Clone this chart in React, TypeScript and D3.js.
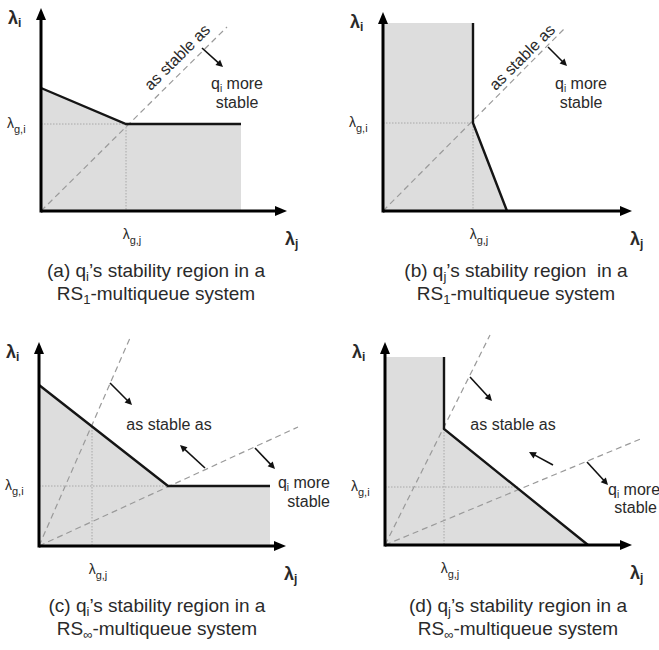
import React from "react";
import * as d3 from "d3";

// ---------- data: values (units = offsets from each panel's origin, y up) ----------
const panelKeys = ["a", "b", "c", "d"];

// position of λg,j on the λj axis and λg,i on the λi axis
const gJ = [85, 90, 53, 59];
const gI = [87, 88, 60, 58];

// stability-region boundary (solid black polyline)
const boundaryA: [number, number][] = [[0, 123], [85, 87], [200, 87]];
const boundaryB: [number, number][] = [[90, 188], [90, 88], [124, 0]];
const boundaryC: [number, number][] = [[0, 161], [129, 60], [231, 60]];
const boundaryD: [number, number][] = [[59, 188], [59, 116], [203, 0]];
const boundaries = [boundaryA, boundaryB, boundaryC, boundaryD];

// dotted guide lines: end of horizontal guide (at λg,i) and top of vertical guide (at λg,j)
const guideHEnd = [85, 90, 129, 133];
const guideVTop = [87, 88, 119, 116];

// dashed "as stable as" lines from the origin
const dashedA: [number, number][][] = [[[0, 0], [186, 184]]];
const dashedB: [number, number][][] = [[[0, 0], [182, 183]]];
const dashedC: [number, number][][] = [[[0, 0], [91, 208]], [[0, 0], [259, 119]]];
const dashedD: [number, number][][] = [[[0, 0], [105, 210]], [[0, 0], [258, 107]]];
const dashed = [dashedA, dashedB, dashedC, dashedD];

// small annotation arrows (from, to)
const arrowsA: [number, number][][] = [[[161, 163], [182, 144]]];
const arrowsB: [number, number][][] = [[[165, 164], [184, 145]]];
const arrowsC: [number, number][][] = [[[71, 163], [93, 141]], [[166, 78], [141, 101]], [[216, 98], [236, 77]]];
const arrowsD: [number, number][][] = [[[85, 168], [107, 144]], [[168, 80], [144, 93]], [[202, 83], [223, 60]]];
const arrows = [arrowsA, arrowsB, arrowsC, arrowsD];

// caption text
type Seg = { t: string; sub?: boolean };
const captionLine1: Seg[][] = [
  [{ t: "(a) q" }, { t: "i", sub: true }, { t: "\u2019s stability region in a" }],
  [{ t: "(b) q" }, { t: "j", sub: true }, { t: "\u2019s stability region\u00a0 in a" }],
  [{ t: "(c) q" }, { t: "i", sub: true }, { t: "\u2019s stability region in a" }],
  [{ t: "(d) q" }, { t: "j", sub: true }, { t: "\u2019s stability region in a" }],
];
const captionLine2: Seg[][] = [
  [{ t: "RS" }, { t: "1", sub: true }, { t: "-multiqueue system" }],
  [{ t: "RS" }, { t: "1", sub: true }, { t: "-multiqueue system" }],
  [{ t: "RS" }, { t: "\u221e", sub: true }, { t: "-multiqueue system" }],
  [{ t: "RS" }, { t: "\u221e", sub: true }, { t: "-multiqueue system" }],
];
const asStableLabel = "as stable as";
const moreStableLabel: Seg[] = [{ t: "q" }, { t: "i", sub: true }, { t: " more" }];
const stableLabel = "stable";

// ---------- layout ----------
const W = 659;
const H = 650;
const origins: [number, number][] = [[41, 211], [383, 211], [39, 546], [385, 545]];
const axisLen: [number, number][] = [[246, 203], [249, 199], [247, 204], [247, 203]];
const captionX = [156, 516, 157, 518];
const captionY = [[277, 300], [277, 300], [612, 635], [612, 635]];
// "as stable as" position [x, y, rotation]
const asStablePos: [number, number, number][] = [[137, 153, -45], [140, 153, -45], [130, 116, 0], [128, 115, 0]];
// "q_i more" position [x, y, anchor]
const morePos: [number, number, string][] = [
  [196, 122, "middle"],
  [198, 122, "middle"],
  [291, 58, "end"],
  [223, 50, "start"],
];
// "stable" position [x, y, anchor]
const stablePos: [number, number, string][] = [
  [196, 103, "middle"],
  [198, 103, "middle"],
  [291, 39, "end"],
  [272, 32, "end"],
];

const FONT = "'Liberation Sans', Arial, Helvetica, sans-serif";
const TEXT = "#2a2a2a";
const FILL = "#dddddd";

function segs(list: Seg[], subSize: string, dy: number) {
  const out: React.ReactNode[] = [];
  let shifted = false;
  list.forEach((s, i) => {
    if (s.sub) {
      out.push(
        <tspan key={i} dy={dy} fontSize={subSize}>
          {s.t}
        </tspan>
      );
      shifted = true;
    } else {
      out.push(
        <tspan key={i} dy={shifted ? -dy : 0}>
          {s.t}
        </tspan>
      );
      shifted = false;
    }
  });
  return out;
}

function head(x1: number, y1: number, x2: number, y2: number, len: number, hw: number) {
  const a = Math.atan2(y2 - y1, x2 - x1);
  const bx = x2 - len * Math.cos(a);
  const by = y2 - len * Math.sin(a);
  const px = -Math.sin(a) * hw;
  const py = Math.cos(a) * hw;
  return `M${x2},${y2}L${bx + px},${by + py}L${bx - px},${by - py}Z`;
}

function Panel({ i }: { i: number }) {
  const [ox, oy] = origins[i];
  const [lx, ly] = axisLen[i];
  const x = d3.scaleLinear().domain([0, lx]).range([ox, ox + lx]);
  const y = d3.scaleLinear().domain([0, ly]).range([oy, oy - ly]);
  const line = d3
    .line<[number, number]>()
    .x((d) => x(d[0]))
    .y((d) => y(d[1]));

  const b = boundaries[i];
  const first = b[0];
  const last = b[b.length - 1];
  const poly: [number, number][] = [[0, first[1]], ...b, [last[0], 0], [0, 0]];

  const [ax, ay, rot] = asStablePos[i];
  const [mx, my, manchor] = morePos[i];
  const [sx, sy, sanchor] = stablePos[i];

  return (
    <g>
      {/* region */}
      <path d={line(poly) + "Z"} fill={FILL} stroke="none" />
      {/* dotted guides */}
      <path
        d={line([[0, gI[i]], [guideHEnd[i], gI[i]]]) || ""}
        stroke="#a8a8a8"
        strokeWidth={1}
        strokeDasharray="1.5,1.5"
        fill="none"
      />
      <path
        d={line([[gJ[i], guideVTop[i]], [gJ[i], 0]]) || ""}
        stroke="#a8a8a8"
        strokeWidth={1}
        strokeDasharray="1.5,1.5"
        fill="none"
      />
      {/* dashed lines */}
      {dashed[i].map((seg, k) => (
        <path key={k} d={line(seg) || ""} stroke="#9a9a9a" strokeWidth={1.2} strokeDasharray="6,4" fill="none" />
      ))}
      {/* boundary */}
      <path d={line(b) || ""} stroke="#151515" strokeWidth={2.4} fill="none" strokeLinejoin="miter" />
      {/* axes */}
      <line x1={x(0)} y1={y(0)} x2={x(lx) - 8} y2={y(0)} stroke="#000" strokeWidth={3} />
      <line x1={x(0)} y1={y(0) + 1.5} x2={x(0)} y2={y(ly) + 8} stroke="#000" strokeWidth={3} />
      <path d={head(x(0), y(0), x(lx), y(0), 12, 5)} fill="#000" />
      <path d={head(x(0), y(0), x(0), y(ly), 12, 5)} fill="#000" />
      {/* annotation arrows */}
      {arrows[i].map((a, k) => {
        const x1 = x(a[0][0]);
        const y1 = y(a[0][1]);
        const x2 = x(a[1][0]);
        const y2 = y(a[1][1]);
        const ang = Math.atan2(y2 - y1, x2 - x1);
        return (
          <g key={k}>
            <line x1={x1} y1={y1} x2={x2 - 5 * Math.cos(ang)} y2={y2 - 5 * Math.sin(ang)} stroke="#111" strokeWidth={1.6} />
            <path d={head(x1, y1, x2, y2, 7, 3.5)} fill="#111" />
          </g>
        );
      })}
      {/* axis labels */}
      <text x={x(0) - 33} y={y(ly) + 16} fontFamily={FONT} fontWeight="bold" fontSize={18} fill={TEXT}>
        {segs([{ t: "\u03bb" }, { t: "i", sub: true }], "12px", 3)}
      </text>
      <text x={x(lx) - 2} y={y(0) + 34} fontFamily={FONT} fontWeight="bold" fontSize={18} fill={TEXT}>
        {segs([{ t: "\u03bb" }, { t: "j", sub: true }], "12px", 3)}
      </text>
      <text x={x(0) - 34} y={y(gI[i]) + 4} fontFamily={FONT} fontSize={14} fill={TEXT}>
        {segs([{ t: "\u03bb" }, { t: "g,i", sub: true }], "11px", 5)}
      </text>
      <text x={x(gJ[i]) + 6} y={y(0) + 28} textAnchor="middle" fontFamily={FONT} fontSize={14} fill={TEXT}>
        {segs([{ t: "\u03bb" }, { t: "g,j", sub: true }], "11px", 5)}
      </text>
      {/* annotation text */}
      <text
        x={x(ax)}
        y={y(ay)}
        transform={rot ? `rotate(${rot},${x(ax)},${y(ay)})` : undefined}
        textAnchor="middle"
        dominantBaseline={rot ? "middle" : "auto"}
        fontFamily={FONT}
        fontSize={16}
        fill={TEXT}
      >
        {asStableLabel}
      </text>
      <text x={x(mx)} y={y(my)} textAnchor={manchor} fontFamily={FONT} fontSize={16} fill={TEXT}>
        {segs(moreStableLabel, "10px", 3)}
      </text>
      <text x={x(sx)} y={y(sy)} textAnchor={sanchor} fontFamily={FONT} fontSize={16} fill={TEXT}>
        {stableLabel}
      </text>
      {/* captions */}
      <text x={captionX[i]} y={captionY[i][0]} textAnchor="middle" fontFamily={FONT} fontSize={19} fill={TEXT}>
        {segs(captionLine1[i], "13px", 4)}
      </text>
      <text x={captionX[i]} y={captionY[i][1]} textAnchor="middle" fontFamily={FONT} fontSize={19} fill={TEXT}>
        {segs(captionLine2[i], "13px", 4)}
      </text>
    </g>
  );
}

export default function App() {
  return (
    <svg
      width={W}
      height={H}
      viewBox={`0 0 ${W} ${H}`}
      style={{ position: "absolute", left: 0, top: 0, background: "#fff" }}
    >
      <rect x={0} y={0} width={W} height={H} fill="#fff" />
      {panelKeys.map((k, i) => (
        <Panel key={k} i={i} />
      ))}
    </svg>
  );
}
